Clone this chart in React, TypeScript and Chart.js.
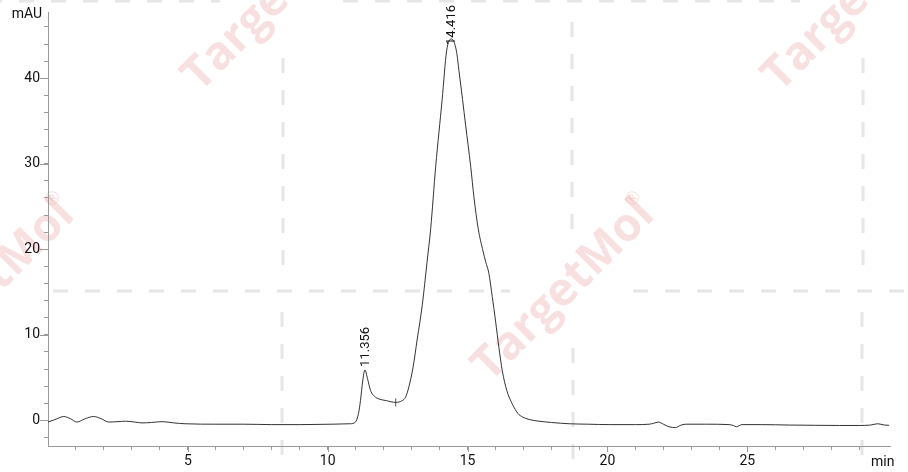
import { useEffect, useRef } from "react";
import { Chart, registerables, type Plugin } from "chart.js";

Chart.register(...registerables);

// retention time (min) / absorbance (mAU)
const times = [
  0.0, 0.3, 0.56, 0.8, 1.03, 1.3, 1.63, 1.9, 2.17, 2.5, 2.77, 3.1, 3.36, 3.7, 4.08, 4.5, 4.9, 6.0, 7.0, 8.0,
  9.0, 10.16, 10.8, 10.99, 11.1, 11.17, 11.25, 11.33, 11.42, 11.53, 11.71, 11.83, 12.1, 12.43, 12.66, 12.78,
  12.9, 13.05, 13.2, 13.38, 13.55, 13.68, 13.86, 14.09, 14.25, 14.42, 14.6, 14.69, 14.82, 14.93, 15.11, 15.23,
  15.38, 15.55, 15.65, 15.76, 15.88, 16.0, 16.12, 16.24, 16.4, 16.6, 16.8, 16.96, 17.2, 17.55, 18.0, 18.63,
  19.3, 20.06, 21.0, 21.49, 21.65, 21.82, 22.0, 22.2, 22.44, 22.6, 22.8, 23.5, 24.35, 24.5, 24.61, 24.8, 25.5,
  26.5, 27.45, 28.3, 29.0, 29.4, 29.66, 29.9, 30.07,
];
const signal = [
  -0.2, 0.15, 0.45, 0.2, -0.2, 0.15, 0.45, 0.2, -0.2, -0.15, -0.1, -0.2, -0.3, -0.25, -0.15, -0.3, -0.4, -0.45,
  -0.45, -0.5, -0.5, -0.45, -0.4, -0.2, 0.8, 2.3, 4.6, 5.9, 4.9, 3.5, 2.7, 2.5, 2.3, 2.1, 2.3, 2.7, 3.9, 6.2,
  9.5, 13.5, 18.5, 22.4, 29.7, 37.5, 43.2, 44.6, 43.2, 40.9, 37.5, 34.5, 29.7, 26.0, 22.4, 19.8, 18.5, 17.2,
  14.5, 11.6, 8.5, 5.8, 3.5, 1.9, 0.8, 0.4, 0.1, -0.1, -0.25, -0.4, -0.45, -0.5, -0.5, -0.45, -0.35, -0.2,
  -0.45, -0.75, -0.85, -0.6, -0.45, -0.45, -0.5, -0.6, -0.75, -0.5, -0.5, -0.55, -0.58, -0.6, -0.6, -0.55,
  -0.4, -0.55, -0.58,
];

const peakTimes = [11.356, 14.416];
const peakHeights = [5.9, 44.6];
const peakLabels = ["11.356", "14.416"];

// integration marks on the baseline
const markTimes = [12.43];
const markValues = [2.1];

const xTicks = [1, 2, 3, 4, 5, 6, 7, 8, 9, 10, 11, 12, 13, 14, 15, 16, 17, 18, 19, 20, 21, 22, 23, 24, 25, 26, 27, 28, 29];
const xLabelTicks = [5, 10, 15, 20, 25];
const yTicks = [-2, 0, 2, 4, 6, 8, 10, 12, 14, 16, 18, 20, 22, 24, 26, 28, 30, 32, 34, 36, 38, 40, 42, 44, 46];
const yLabelTicks = [0, 10, 20, 30, 40];

const FONT = "Roboto, 'Liberation Sans', sans-serif";
const AXIS_GREY = "#9a9a9a";

const watermark: Plugin = {
  id: "watermark",
  beforeDraw(chart) {
    const ctx = chart.ctx;
    const cells = [[0, 0], [580, 0], [-580, 0], [290, 290], [-290, 290], [870, 290], [290, -290], [-290, -290]];
    ctx.save();
    ctx.strokeStyle = "#e6e6e6";
    ctx.lineWidth = 3;
    ctx.setLineDash([15, 17]);
    const seg = (x1: number, y1: number, x2: number, y2: number) => {
      ctx.beginPath();
      ctx.moveTo(x1, y1);
      ctx.lineTo(x2, y2);
      ctx.stroke();
    };
    for (const [dx, dy] of cells) {
      seg(343 + dx, 1 + dy, 800 + dx, 1 + dy);
      seg(283 + dx, 58 + dy, 283 + dx, 282 + dy);
      seg(572 + dx, 22 + dy, 572 + dx, 230 + dy);
    }
    ctx.setLineDash([]);
    ctx.fillStyle = "rgba(222, 70, 70, 0.17)";
    ctx.font = `bold 40px 'Open Sans', sans-serif`;
    const size = (40 * 235) / ctx.measureText("TargetMol").width;
    for (const [dx, dy] of cells) {
      ctx.save();
      ctx.translate(200 + dx, 93 + dy);
      ctx.rotate(-Math.PI / 4);
      ctx.font = `bold ${size}px 'Open Sans', sans-serif`;
      ctx.textAlign = "left";
      ctx.textBaseline = "alphabetic";
      ctx.fillText("TargetMol", 0, 0);
      ctx.font = `18px 'Open Sans', sans-serif`;
      ctx.fillText("®", 224, -24);
      ctx.restore();
    }
    ctx.restore();
  },
};

const decorations: Plugin = {
  id: "decorations",
  afterDraw(chart) {
    const { ctx, chartArea } = chart;
    const x = chart.scales.x;
    const y = chart.scales.y;
    ctx.save();
    // longer ticks at the labelled values
    ctx.strokeStyle = AXIS_GREY;
    ctx.lineWidth = 1;
    for (const v of yLabelTicks) {
      const py = Math.round(y.getPixelForValue(v)) + 0.5;
      ctx.beginPath();
      ctx.moveTo(chartArea.left - 8, py);
      ctx.lineTo(chartArea.left, py);
      ctx.stroke();
    }
    for (const v of xLabelTicks) {
      const px = Math.round(x.getPixelForValue(v)) + 0.5;
      ctx.beginPath();
      ctx.moveTo(px, chartArea.bottom);
      ctx.lineTo(px, chartArea.bottom + 6);
      ctx.stroke();
    }
    // axis units
    ctx.fillStyle = "#111";
    ctx.font = `14px ${FONT}`;
    ctx.textBaseline = "middle";
    ctx.textAlign = "right";
    ctx.fillText("mAU", 42, 14);
    ctx.textAlign = "left";
    ctx.fillText("min", 871, 462);
    // retention time labels
    ctx.font = `13px ${FONT}`;
    peakTimes.forEach((t, i) => {
      const px = x.getPixelForValue(t);
      const py = y.getPixelForValue(peakHeights[i]);
      const w = ctx.measureText(peakLabels[i]).width;
      const bottom = Math.max(py - 3, 5 + w);
      ctx.save();
      ctx.translate(px, bottom);
      ctx.rotate(-Math.PI / 2);
      ctx.textAlign = "left";
      ctx.textBaseline = "middle";
      ctx.fillText(peakLabels[i], 0, 0);
      ctx.restore();
    });
    ctx.restore();
  },
};

export default function App() {
  const canvasRef = useRef<HTMLCanvasElement | null>(null);

  useEffect(() => {
    if (!canvasRef.current) return;
    const trace = times.map((t, i) => ({ x: t, y: signal[i] }));
    const marks = markTimes.map((t, i) => ({ x: t, y: markValues[i] }));
    const chart = new Chart(canvasRef.current, {
      type: "line",
      data: {
        datasets: [
          {
            data: trace,
            borderColor: "#333",
            borderWidth: 1,
            pointRadius: 0,
            cubicInterpolationMode: "monotone",
          },
          {
            data: marks,
            showLine: false,
            pointStyle: "line",
            pointRotation: 90,
            pointRadius: 4,
            borderColor: "#555",
            borderWidth: 1,
          },
        ],
      },
      options: {
        animation: false,
        responsive: true,
        maintainAspectRatio: false,
        events: [],
        layout: { padding: { top: 8, right: 18, left: 0, bottom: 0 } },
        plugins: { legend: { display: false }, tooltip: { enabled: false } },
        scales: {
          x: {
            type: "linear",
            min: 0,
            max: 30.1,
            afterFit: (s) => {
              s.height = 26;
            },
            afterBuildTicks: (s) => {
              s.ticks = xTicks.map((v) => ({ value: v }));
            },
            grid: { drawOnChartArea: false, tickLength: 4, color: AXIS_GREY },
            border: { color: AXIS_GREY },
            ticks: {
              autoSkip: false,
              maxRotation: 0,
              padding: 3,
              color: "#111",
              font: { family: FONT, size: 14 },
              callback: (v) => (xLabelTicks.includes(Number(v)) ? String(v) : ""),
            },
          },
          y: {
            min: -3,
            max: 47.7,
            afterFit: (s) => {
              s.width = 48;
            },
            afterBuildTicks: (s) => {
              s.ticks = yTicks.map((v) => ({ value: v }));
            },
            grid: { drawOnChartArea: false, tickLength: 4, color: AXIS_GREY },
            border: { color: AXIS_GREY },
            ticks: {
              autoSkip: false,
              padding: 4,
              color: "#111",
              font: { family: FONT, size: 14 },
              callback: (v) => (yLabelTicks.includes(Number(v)) ? String(v) : ""),
            },
          },
        },
      },
      plugins: [watermark, decorations],
    });
    return () => chart.destroy();
  }, []);

  return (
    <div style={{ position: "fixed", left: 0, top: 0, width: 908, height: 472, background: "#fff" }}>
      <canvas ref={canvasRef} />
    </div>
  );
}
